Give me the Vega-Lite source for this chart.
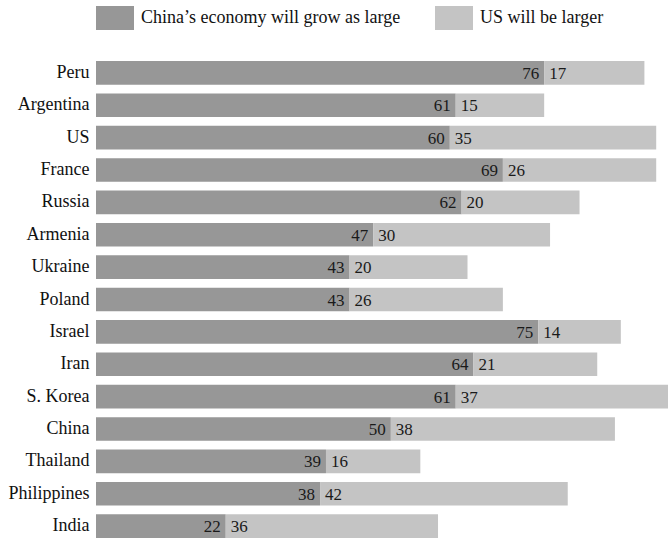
{
  "$schema": "https://vega.github.io/schema/vega-lite/v6.json",
  "width": 572,
  "height": 477,
  "autosize": {"type": "none"},
  "padding": {"left": 96, "top": 61, "right": 0, "bottom": 1},
  "config": {
    "view": {"stroke": null},
    "font": "Liberation Serif",
    "text": {"font": "Liberation Serif"}
  },
  "data": {
    "values": [
      {"country": "Peru", "answer": "China’s economy will grow as large", "value": 76},
      {"country": "Peru", "answer": "US will be larger", "value": 17},
      {"country": "Argentina", "answer": "China’s economy will grow as large", "value": 61},
      {"country": "Argentina", "answer": "US will be larger", "value": 15},
      {"country": "US", "answer": "China’s economy will grow as large", "value": 60},
      {"country": "US", "answer": "US will be larger", "value": 35},
      {"country": "France", "answer": "China’s economy will grow as large", "value": 69},
      {"country": "France", "answer": "US will be larger", "value": 26},
      {"country": "Russia", "answer": "China’s economy will grow as large", "value": 62},
      {"country": "Russia", "answer": "US will be larger", "value": 20},
      {"country": "Armenia", "answer": "China’s economy will grow as large", "value": 47},
      {"country": "Armenia", "answer": "US will be larger", "value": 30},
      {"country": "Ukraine", "answer": "China’s economy will grow as large", "value": 43},
      {"country": "Ukraine", "answer": "US will be larger", "value": 20},
      {"country": "Poland", "answer": "China’s economy will grow as large", "value": 43},
      {"country": "Poland", "answer": "US will be larger", "value": 26},
      {"country": "Israel", "answer": "China’s economy will grow as large", "value": 75},
      {"country": "Israel", "answer": "US will be larger", "value": 14},
      {"country": "Iran", "answer": "China’s economy will grow as large", "value": 64},
      {"country": "Iran", "answer": "US will be larger", "value": 21},
      {"country": "S. Korea", "answer": "China’s economy will grow as large", "value": 61},
      {"country": "S. Korea", "answer": "US will be larger", "value": 37},
      {"country": "China", "answer": "China’s economy will grow as large", "value": 50},
      {"country": "China", "answer": "US will be larger", "value": 38},
      {"country": "Thailand", "answer": "China’s economy will grow as large", "value": 39},
      {"country": "Thailand", "answer": "US will be larger", "value": 16},
      {"country": "Philippines", "answer": "China’s economy will grow as large", "value": 38},
      {"country": "Philippines", "answer": "US will be larger", "value": 42},
      {"country": "India", "answer": "China’s economy will grow as large", "value": 22},
      {"country": "India", "answer": "US will be larger", "value": 36}
    ]
  },
  "transform": [
    {"stack": "value", "groupby": ["country"], "sort": [{"field": "answer", "order": "ascending"}], "as": ["v0", "v1"]}
  ],
  "encoding": {
    "y": {
      "field": "country",
      "type": "nominal",
      "sort": ["Peru", "Argentina", "US", "France", "Russia", "Armenia", "Ukraine", "Poland", "Israel", "Iran", "S. Korea", "China", "Thailand", "Philippines", "India"],
      "scale": {"paddingInner": 0.27, "paddingOuter": 0},
      "axis": {
        "title": null,
        "domain": false,
        "ticks": false,
        "labelFont": "Liberation Serif",
        "labelFontSize": 18,
        "labelFontWeight": "normal",
        "labelColor": "#111111",
        "labelPadding": 7
      }
    }
  },
  "layer": [
    {
      "mark": {"type": "bar", "clip": true},
      "encoding": {
        "x": {"field": "v0", "type": "quantitative", "scale": {"domain": [0, 97], "nice": false, "zero": true}, "axis": null},
        "x2": {"field": "v1"},
        "color": {
          "field": "answer",
          "type": "nominal",
          "scale": {"domain": ["China’s economy will grow as large", "US will be larger"], "range": ["#979797", "#c4c4c4"]},
          "legend": {
            "title": null,
            "orient": "none",
            "legendX": 0,
            "legendY": -62,
            "direction": "horizontal",
            "padding": 0,
            "symbolType": "M-1,-0.63H1V0.63H-1Z",
            "symbolSize": 1444,
            "symbolStrokeWidth": 0,
            "symbolOpacity": 1,
            "labelFont": "Liberation Serif",
            "labelFontSize": 18,
            "labelColor": "#111111",
            "labelOffset": 7,
            "labelLimit": 400,
            "columnPadding": 34
          }
        }
      }
    },
    {
      "transform": [{"filter": "datum.answer === 'China’s economy will grow as large'"}],
      "mark": {"type": "text", "align": "right", "baseline": "middle", "dx": -5, "dy": 1, "fontSize": 17, "color": "#1a1a1a", "font": "Liberation Serif"},
      "encoding": {
        "x": {"field": "v1", "type": "quantitative"},
        "text": {"field": "value", "type": "quantitative"}
      }
    },
    {
      "transform": [{"filter": "datum.answer === 'US will be larger'"}],
      "mark": {"type": "text", "align": "left", "baseline": "middle", "dx": 5, "dy": 1, "fontSize": 17, "color": "#1a1a1a", "font": "Liberation Serif"},
      "encoding": {
        "x": {"field": "v0", "type": "quantitative"},
        "text": {"field": "value", "type": "quantitative"}
      }
    }
  ]
}
